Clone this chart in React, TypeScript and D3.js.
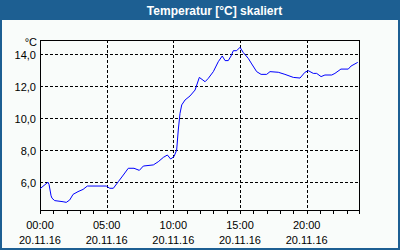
import React from "react";
import * as d3 from "d3";

const hours = [0, 0.6, 0.68, 0.83, 0.9, 1.1, 1.73, 1.97, 2.23, 2.48, 2.85, 3.23, 3.55, 4.97, 5.23, 5.5, 5.87, 6.25, 6.62, 7.05, 7.45, 7.75, 8.5, 8.87, 9.25, 9.55, 9.8, 10.05, 10.25, 10.37, 10.5, 10.63, 10.88, 11.25, 11.63, 11.95, 12.38, 12.62, 13.0, 13.37, 13.67, 13.88, 14.12, 14.33, 14.5, 14.75, 15.0, 15.25, 15.62, 15.88, 16.25, 16.58, 17.0, 17.25, 17.87, 18.37, 19.0, 19.5, 19.87, 20.12, 20.5, 20.75, 21.08, 21.37, 21.88, 22.12, 22.57, 23.12, 23.33, 23.83];
const temps = [5.64, 6.05, 5.9, 5.2, 5.05, 4.9, 4.83, 4.79, 4.94, 5.29, 5.46, 5.6, 5.81, 5.81, 5.67, 5.67, 6.08, 6.5, 6.92, 6.92, 6.79, 7.06, 7.13, 7.33, 7.6, 7.75, 7.5, 7.65, 8.06, 9.31, 10.35, 10.88, 11.19, 11.44, 11.81, 12.6, 12.33, 12.54, 12.96, 13.58, 13.94, 13.65, 13.65, 13.94, 14.27, 14.27, 14.48, 14.15, 13.79, 13.44, 12.96, 12.79, 12.79, 12.96, 12.92, 12.79, 12.6, 12.56, 12.92, 13.02, 12.85, 12.85, 12.65, 12.75, 12.75, 12.85, 13.12, 13.12, 13.31, 13.54];
const yTicks = [6, 8, 10, 12, 14];
const xLabelHours = [0, 5, 10, 15, 20];
const xLabelTimes = ["00:00", "05:00", "10:00", "15:00", "20:00"];
const dateLabel = "20.11.16";
const title = "Temperatur [°C] skaliert";
const unit = "°C";

const W = 400;
const H = 250;
const L = 40, R = 360, T = 40, B = 210;
const blue = "#1d5f92";
const font = "'Liberation Sans', Arial, sans-serif";

export default function App() {
  const x = d3.scaleLinear().domain([0, 24]).range([L, R]);
  const y = d3.scaleLinear().domain([4.3125, 14.9375]).range([B, T]);
  const line = d3.line<number>().x((_, i) => x(hours[i])).y((d) => y(d));
  const px = (v: number) => Math.round(v) + 0.5;
  const hourTicks = d3.range(0, 25);
  return (
    <div style={{ position: "fixed", left: 0, top: 0 }}>
      <svg width={W} height={H} style={{ display: "block" }}>
        <rect x={0} y={0} width={W} height={H} fill={blue} />
        <rect x={2} y={20} width={W - 4} height={H - 22} fill="#f9fcfa" />
        <text x={214.5} y={14.5} fill="#ffffff" fontFamily={font} fontWeight="bold" fontSize={12} textAnchor="middle">{title}</text>
        {/* grid */}
        {yTicks.map((t) => (
          <line key={"gy" + t} x1={L} x2={R} y1={px(y(t)) - 1} y2={px(y(t)) - 1} stroke="#000" strokeDasharray="3,2" strokeWidth={1} />
        ))}
        {xLabelHours.filter((h) => h > 0).map((h) => (
          <line key={"gx" + h} x1={px(x(h))} x2={px(x(h))} y1={T} y2={B} stroke="#000" strokeDasharray="3,2" strokeWidth={1} />
        ))}
        {/* frame */}
        <line x1={L + 0.5} x2={L + 0.5} y1={T} y2={B + 4} stroke="#000" />
        <line x1={R - 0.5} x2={R - 0.5} y1={T} y2={B + 2} stroke="#000" />
        <line x1={L} x2={R} y1={T + 0.5} y2={T + 0.5} stroke="#000" />
        <line x1={L} x2={R} y1={B + 0.5} y2={B + 0.5} stroke="#000" />
        {hourTicks.map((h) => (
          <line key={"t" + h} x1={px(x(h)) - (h === 24 ? 1 : 0)} x2={px(x(h)) - (h === 24 ? 1 : 0)} y1={B} y2={B + 4} stroke="#000" />
        ))}
        {/* data */}
        <path d={line(temps) || ""} fill="none" stroke="#0000ff" strokeWidth={1} />
        {/* y labels */}
        {yTicks.map((t) => (
          <text key={"ly" + t} x={36} y={y(t) + 3.5} fontFamily={font} fontSize={11} textAnchor="end" fill="#000">{t.toFixed(1).replace(".", ",")}</text>
        ))}
        <text x={37} y={46} fontFamily={font} fontSize={11} textAnchor="end" fill="#000">{unit}</text>
        {/* x labels */}
        {xLabelHours.map((h, i) => (
          <g key={"lx" + h}>
            <text x={x(h)} y={229} fontFamily={font} fontSize={11} textAnchor="middle" fill="#000">{xLabelTimes[i]}</text>
            <text x={x(h)} y={244} fontFamily={font} fontSize={11} textAnchor="middle" fill="#000">{dateLabel}</text>
          </g>
        ))}
      </svg>
    </div>
  );
}
